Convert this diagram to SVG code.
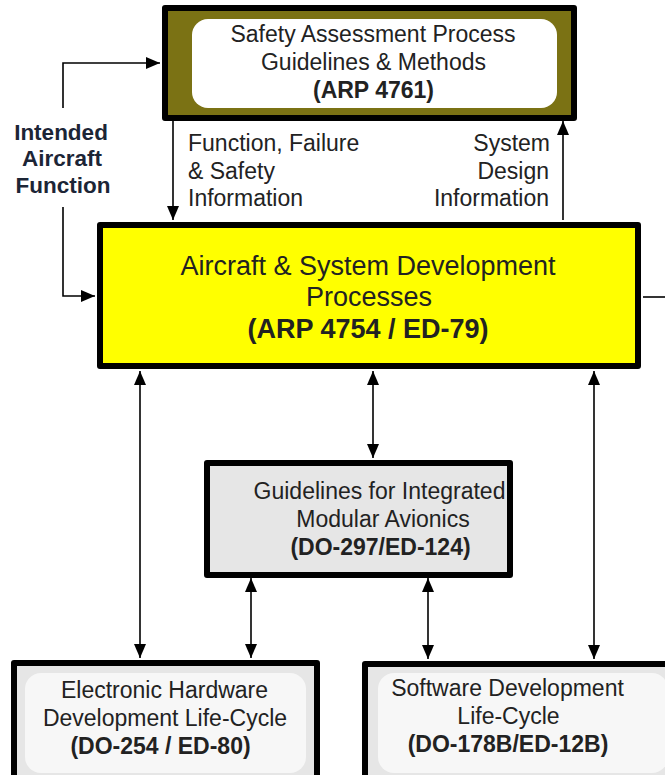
<svg xmlns="http://www.w3.org/2000/svg" width="665" height="775" viewBox="0 0 665 775">
  <defs>
    <marker id="arrowL" viewBox="0 0 14 12" refX="14" refY="6" markerWidth="14" markerHeight="12" markerUnits="userSpaceOnUse" orient="auto-start-reverse">
      <path d="M0,0 L14,6 L0,12 z" fill="#000"/>
    </marker>
  </defs>
  <style>
    text { font-family: "Liberation Sans", Arial, sans-serif; fill: #222; text-anchor: middle; font-size: 23px; }
    .b { font-weight: bold; }
    .big { font-size: 27px; }
    .frame { stroke: #000; stroke-width: 6; stroke-linejoin: round; }
    .line { stroke: #000; stroke-width: 1.6; fill: none; }
    .side { font-size: 22.5px; font-weight: bold; fill: #1c2536; }
    .st { text-anchor: start; }
    .en { text-anchor: end; }
  </style>
  <rect width="665" height="775" fill="#fff"/>

  <!-- connectors -->
  <g id="connectors">
    <polyline class="line" points="63,108 63,63 160,63" marker-end="url(#arrowL)"/>
    <polyline class="line" points="63,207 63,296 95,296" marker-end="url(#arrowL)"/>
    <line class="line" x1="173" y1="121" x2="173" y2="220" marker-end="url(#arrowL)"/>
    <line class="line" x1="563" y1="220" x2="563" y2="121" marker-end="url(#arrowL)"/>
    <line class="line" x1="643" y1="297" x2="665" y2="297"/>
    <line class="line" x1="140" y1="371" x2="140" y2="658" marker-start="url(#arrowL)" marker-end="url(#arrowL)"/>
    <line class="line" x1="373" y1="371" x2="373" y2="458" marker-start="url(#arrowL)" marker-end="url(#arrowL)"/>
    <line class="line" x1="594" y1="371" x2="594" y2="659" marker-start="url(#arrowL)" marker-end="url(#arrowL)"/>
    <line class="line" x1="251" y1="578" x2="251" y2="658" marker-start="url(#arrowL)" marker-end="url(#arrowL)"/>
    <line class="line" x1="428" y1="578" x2="428" y2="659" marker-start="url(#arrowL)" marker-end="url(#arrowL)"/>
  </g>

  <!-- edge labels -->
  <g id="labels">
    <text class="side" x="61" y="140">Intended</text>
    <text class="side" x="62" y="166">Aircraft</text>
    <text class="side" x="63" y="193">Function</text>
    <text class="st" x="188" y="151">Function, Failure</text>
    <text class="st" x="188" y="179">&amp; Safety</text>
    <text class="st" x="188" y="206">Information</text>
    <text class="en" x="550" y="151">System</text>
    <text class="en" x="549" y="179">Design</text>
    <text class="en" x="549" y="206">Information</text>
  </g>

  <!-- safety assessment -->
  <g id="arp4761">
    <rect class="frame" x="165" y="8" width="409" height="110" fill="#7b7214"/>
    <rect x="192" y="19" width="365" height="89" rx="16" fill="#fff"/>
    <text x="373" y="42">Safety Assessment Process</text>
    <text x="373.5" y="70">Guidelines &amp; Methods</text>
    <text class="b" x="373.5" y="98">(ARP 4761)</text>
  </g>

  <!-- aircraft & system development -->
  <g id="arp4754">
    <rect class="frame" x="100" y="225" width="538" height="141" fill="#ffff00"/>
    <text class="big" x="368" y="275">Aircraft &amp; System Development</text>
    <text class="big" x="369" y="306">Processes</text>
    <text class="big b" x="368" y="338">(ARP 4754 / ED-79)</text>
  </g>

  <!-- integrated modular avionics -->
  <g id="do297">
    <rect class="frame" x="207" y="463" width="303" height="112" fill="#e6e6e6"/>
    <text x="379.5" y="499">Guidelines for Integrated</text>
    <text x="383" y="527">Modular Avionics</text>
    <text class="b" x="380.5" y="555">(DO-297/ED-124)</text>
  </g>

  <!-- hardware -->
  <g id="do254">
    <rect class="frame" x="14" y="663" width="303" height="120" fill="#e6e6e6"/>
    <rect x="25" y="673" width="281" height="100" rx="16" fill="#f7f7f7"/>
    <text x="164.5" y="698">Electronic Hardware</text>
    <text x="165" y="726">Development Life-Cycle</text>
    <text class="b" x="160.5" y="754">(DO-254 / ED-80)</text>
  </g>

  <!-- software -->
  <g id="do178b">
    <rect class="frame" x="365" y="664" width="310" height="120" fill="#e6e6e6"/>
    <rect x="378" y="673" width="290" height="100" rx="16" fill="#f7f7f7"/>
    <text x="507.5" y="696">Software Development</text>
    <text x="508.5" y="724">Life-Cycle</text>
    <text class="b" x="508" y="752">(DO-178B/ED-12B)</text>
  </g>
</svg>
